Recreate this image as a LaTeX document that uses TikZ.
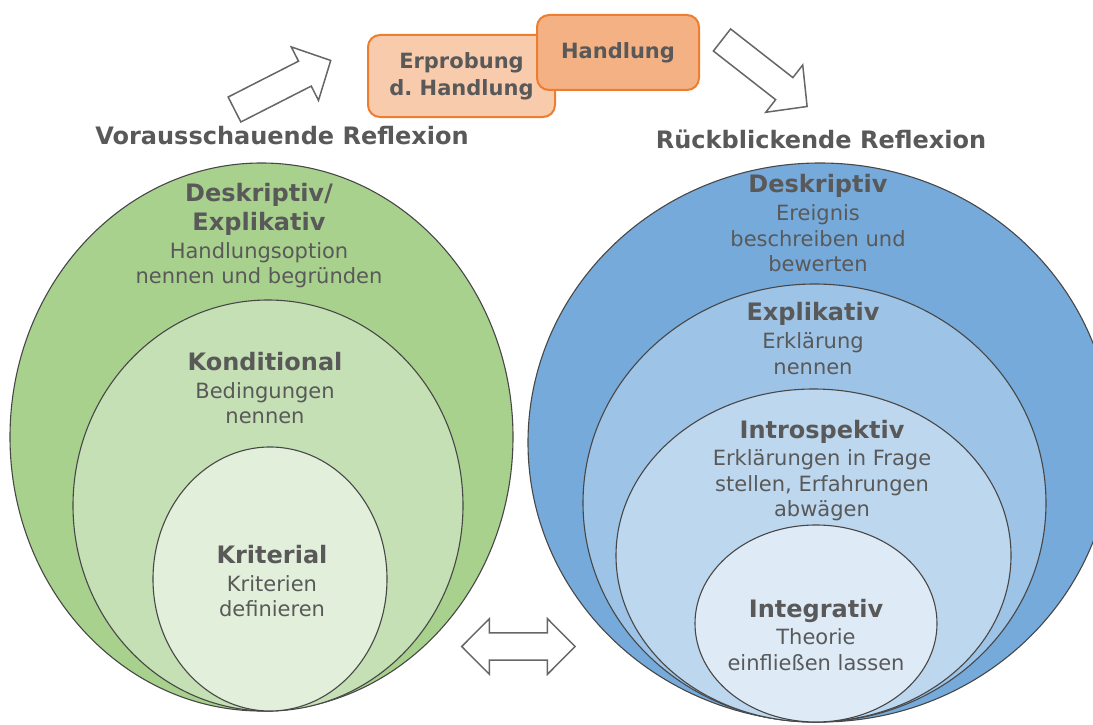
\documentclass[tikz,border=0pt]{standalone}
\usepackage{fontspec}
\setmainfont{DejaVu Sans}
\frenchspacing
\definecolor{txt}{HTML}{595959}
\definecolor{edge}{HTML}{474747}
\definecolor{grA}{HTML}{A9D18E}
\definecolor{grB}{HTML}{C5E0B4}
\definecolor{grC}{HTML}{E2EFDA}
\definecolor{blA}{HTML}{75AADB}
\definecolor{blB}{HTML}{9DC3E6}
\definecolor{blC}{HTML}{BDD7EE}
\definecolor{blD}{HTML}{DEEBF7}
\definecolor{orA}{HTML}{F8CBAD}
\definecolor{orB}{HTML}{F4B183}
\definecolor{orLine}{HTML}{ED7D31}
\definecolor{arr}{HTML}{666666}
\newcommand\lvl[1]{{\fontsize{24}{25.5}\selectfont\bfseries #1}}
\begin{document}
\begin{tikzpicture}[x=1pt,y=-1pt,
  layer/.style={draw=edge, line width=1.1pt},
  lbl/.style={text=txt, align=center, anchor=north, inner sep=0pt,
    font=\fontsize{21}{25.5}\selectfont},
  hdr/.style={text=txt, inner sep=0pt, font=\fontsize{24}{28}\selectfont\bfseries},
  stepbox/.style={draw=orLine, line width=2pt, rounded corners=12pt, text=txt,
    align=center, inner sep=0pt, font=\fontsize{21}{27}\selectfont\bfseries},
  blockarrow/.style={draw=arr, fill=white, line width=1.5pt, line join=miter}]

\useasboundingbox (0,0) rectangle (1093,725);
\fill[white] (0,0) rectangle (1093,725);

\begin{scope}
  \clip (0,0) rectangle (1093,725);
  % anticipatory reflection: nested green levels
  \draw[layer, fill=grA] (261.5,437) ellipse [x radius=251.5pt, y radius=274pt];
  \draw[layer, fill=grB] (268,505.5) ellipse [x radius=195pt, y radius=205.5pt];
  \draw[layer, fill=grC] (270,579) ellipse [x radius=117pt, y radius=132pt];
  % retrospective reflection: nested blue levels
  \draw[layer, fill=blA] (820,442.5) ellipse [x radius=292pt, y radius=279.5pt];
  \draw[layer, fill=blB] (814.5,503) ellipse [x radius=231.5pt, y radius=219pt];
  \draw[layer, fill=blC] (813.5,555.5) ellipse [x radius=197.5pt, y radius=166.5pt];
  \draw[layer, fill=blD] (816,623.5) ellipse [x radius=121pt, y radius=98.5pt];
\end{scope}

% level labels, left
\node[lbl] (deskL) at (259,183.5) {\lvl{Deskriptiv/}\\[3pt]\lvl{Explikativ}\\[2.5pt]Handlungsoption\\nennen und begründen};
\node[lbl] (kond) at (265,352.5) {\lvl{Konditional}\\[2pt]Bedingungen\\nennen};
\node[lbl] (krit) at (272,545.5) {\lvl{Kriterial}\\[2pt]Kriterien\\definieren};

% level labels, right
\node[lbl] (deskR) at (818,174.5) {\lvl{Deskriptiv}\\[2.5pt]Ereignis\\beschreiben und\\bewerten};
\node[lbl] (expl) at (813,302.5) {\lvl{Explikativ}\\[2.5pt]Erklärung\\nennen};
\node[lbl] (intro) at (822,420.5) {\lvl{Introspektiv}\\[1.5pt]Erklärungen in Frage\\stellen, Erfahrungen\\abwägen};
\node[lbl] (integ) at (816,599.5) {\lvl{Integrativ}\\[1.5pt]Theorie\\einfließen lassen};

% headings
\node[hdr] (vor) at (282,136) {Vorausschauende Reflexion};
\node[hdr] (rueck) at (821,139) {Rückblickende Reflexion};

% action boxes
\node[stepbox, fill=orA, minimum width=187pt, minimum height=82pt] (probe) at (461.5,76) {Erprobung\\d. Handlung};
\node[stepbox, fill=orB, minimum width=162pt, minimum height=75pt] (act) at (618,52.5) {Handlung};

% block arrows
\draw[blockarrow, shift={(234.5,109.5)}, rotate=27]
  (0pt,-14pt) -- (79pt,-14pt) -- (79pt,-30pt) -- (108pt,0pt) -- (79pt,30pt) -- (79pt,14pt) -- (0pt,14pt) -- cycle;
\draw[blockarrow, shift={(722,40)}, rotate=-38]
  (0pt,-14pt) -- (79pt,-14pt) -- (79pt,-30pt) -- (108pt,0pt) -- (79pt,30pt) -- (79pt,14pt) -- (0pt,14pt) -- cycle;
\draw[blockarrow, shift={(518.4,646.5)}]
  (-56.7pt,0pt) -- (-29pt,27.8pt) -- (-29pt,13.7pt) -- (29pt,13.7pt) -- (29pt,27.8pt) -- (56.7pt,0pt)
  -- (29pt,-27.8pt) -- (29pt,-13.7pt) -- (-29pt,-13.7pt) -- (-29pt,-27.8pt) -- cycle;
\end{tikzpicture}
\end{document}
